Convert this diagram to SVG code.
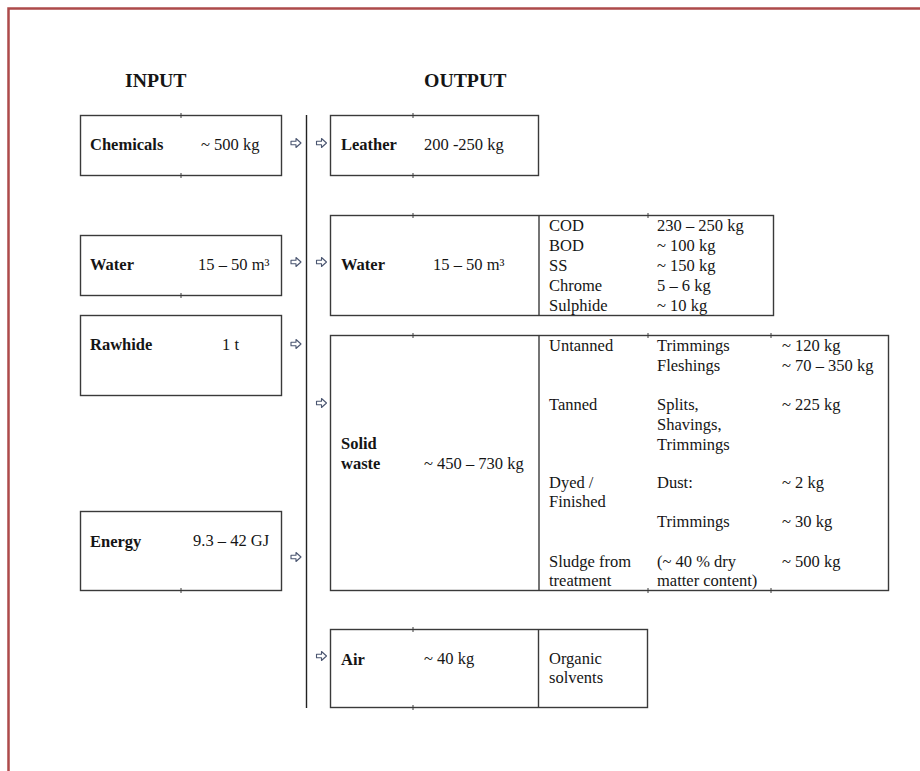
<svg xmlns="http://www.w3.org/2000/svg" width="920" height="771" viewBox="0 0 920 771">
<defs>
<style>
.t{font-family:"Liberation Serif","Times New Roman",serif;font-size:16.5px;fill:#151515}
.b{font-weight:bold}
.h{font-family:"Liberation Serif","Times New Roman",serif;font-size:19.8px;font-weight:bold;fill:#151515}
.box{fill:none;stroke:#3a3a3a;stroke-width:1.4}
.div{stroke:#3a3a3a;stroke-width:1.4}
.tick{stroke:#3a3a3a;stroke-width:1}
.arr{fill:#fff;stroke:#4a5570;stroke-width:1.1;stroke-linejoin:round}
</style>
<path id="ar" d="M0,-1.8 L5,-1.8 L5,-4.5 L10,0 L5,4.5 L5,1.8 L0,1.8 Z"/>
</defs>
<rect width="920" height="771" fill="#fff"/>
<path d="M8.5,771 V8.5 H920" fill="none" stroke="#ad4a4a" stroke-width="2.5"/>

<text class="h" x="125" y="87">INPUT</text>
<text class="h" x="424" y="87">OUTPUT</text>

<g id="connectors">
<line x1="306.5" y1="115" x2="306.5" y2="708" stroke="#222" stroke-width="1.4"/>
<use href="#ar" class="arr" x="291" y="143"/>
<use href="#ar" class="arr" x="316.5" y="143"/>
<use href="#ar" class="arr" x="291" y="262"/>
<use href="#ar" class="arr" x="316.5" y="262"/>
<use href="#ar" class="arr" x="291" y="344"/>
<use href="#ar" class="arr" x="316.5" y="403"/>
<use href="#ar" class="arr" x="291" y="557"/>
<use href="#ar" class="arr" x="316.5" y="656"/>
</g>

<g id="in-chemicals">
<rect class="box" x="80.5" y="115.5" width="201" height="60"/>
<line class="tick" x1="181" y1="113" x2="181" y2="118"/>
<line class="tick" x1="181" y1="173" x2="181" y2="178"/>
<text class="t b" x="90" y="150">Chemicals</text>
<text class="t" x="201" y="150">~ 500 kg</text>
</g>

<g id="in-water">
<rect class="box" x="80.5" y="235.5" width="201" height="60"/>
<line class="tick" x1="181" y1="293" x2="181" y2="298"/>
<text class="t b" x="90" y="270">Water</text>
<text class="t" x="198" y="270">15 – 50 m³</text>
</g>

<g id="in-rawhide">
<rect class="box" x="80.5" y="315.5" width="201" height="80"/>
<text class="t b" x="90" y="350">Rawhide</text>
<text class="t" x="222" y="350">1 t</text>
</g>

<g id="in-energy">
<rect class="box" x="80.5" y="511.5" width="201" height="79"/>
<line class="tick" x1="181" y1="588" x2="181" y2="593"/>
<text class="t b" x="90" y="547">Energy</text>
<text class="t" x="193" y="546">9.3 – 42 GJ</text>
</g>

<g id="out-leather">
<rect class="box" x="330.5" y="115.5" width="208" height="60"/>
<line class="tick" x1="413" y1="113" x2="413" y2="118"/>
<line class="tick" x1="413" y1="173" x2="413" y2="178"/>
<text class="t b" x="341" y="150">Leather</text>
<text class="t" x="424" y="150">200 -250 kg</text>
</g>

<g id="out-water">
<rect class="box" x="330.5" y="215.5" width="443" height="100"/>
<line class="div" x1="539" y1="215.5" x2="539" y2="315.5"/>
<line class="tick" x1="413" y1="213" x2="413" y2="218"/>
<line class="tick" x1="648" y1="213" x2="648" y2="218"/>
<text class="t b" x="341" y="270">Water</text>
<text class="t" x="433" y="270">15 – 50 m³</text>
<text class="t" x="549" y="231">COD</text>
<text class="t" x="549" y="251">BOD</text>
<text class="t" x="549" y="271">SS</text>
<text class="t" x="549" y="291">Chrome</text>
<text class="t" x="549" y="311">Sulphide</text>
<text class="t" x="657" y="231">230 – 250 kg</text>
<text class="t" x="657" y="251">~ 100 kg</text>
<text class="t" x="657" y="271">~ 150 kg</text>
<text class="t" x="657" y="291">5 – 6 kg</text>
<text class="t" x="657" y="311">~ 10 kg</text>
</g>

<g id="out-solid">
<rect class="box" x="330.5" y="335.5" width="558" height="255"/>
<line class="div" x1="539" y1="335.5" x2="539" y2="590.5"/>
<line class="tick" x1="413" y1="333" x2="413" y2="338"/>
<line class="tick" x1="648" y1="333" x2="648" y2="338"/>
<line class="tick" x1="771" y1="333" x2="771" y2="338"/>
<line class="tick" x1="648" y1="588" x2="648" y2="593"/>
<line class="tick" x1="771" y1="588" x2="771" y2="593"/>
<text class="t b" x="341" y="449">Solid</text>
<text class="t b" x="341" y="469">waste</text>
<text class="t" x="424" y="469">~ 450 – 730 kg</text>
<text class="t" x="549" y="351">Untanned</text>
<text class="t" x="657" y="351">Trimmings</text>
<text class="t" x="782" y="351">~ 120 kg</text>
<text class="t" x="657" y="371">Fleshings</text>
<text class="t" x="782" y="371">~ 70 – 350 kg</text>
<text class="t" x="549" y="410">Tanned</text>
<text class="t" x="657" y="410">Splits,</text>
<text class="t" x="782" y="410">~ 225 kg</text>
<text class="t" x="657" y="430">Shavings,</text>
<text class="t" x="657" y="450">Trimmings</text>
<text class="t" x="549" y="488">Dyed /</text>
<text class="t" x="549" y="507">Finished</text>
<text class="t" x="657" y="488">Dust:</text>
<text class="t" x="782" y="488">~ 2 kg</text>
<text class="t" x="657" y="527">Trimmings</text>
<text class="t" x="782" y="527">~ 30 kg</text>
<text class="t" x="549" y="567">Sludge from</text>
<text class="t" x="549" y="586">treatment</text>
<text class="t" x="657" y="567">(~ 40 % dry</text>
<text class="t" x="657" y="586">matter content)</text>
<text class="t" x="782" y="567">~ 500 kg</text>
</g>

<g id="out-air">
<rect class="box" x="330.5" y="629.5" width="317" height="78"/>
<line class="div" x1="538.5" y1="629.5" x2="538.5" y2="707.5"/>
<line class="tick" x1="413" y1="627" x2="413" y2="632"/>
<line class="tick" x1="413" y1="705" x2="413" y2="710"/>
<text class="t b" x="341" y="665">Air</text>
<text class="t" x="424" y="664">~ 40 kg</text>
<text class="t" x="549" y="664">Organic</text>
<text class="t" x="549" y="683">solvents</text>
</g>
</svg>
